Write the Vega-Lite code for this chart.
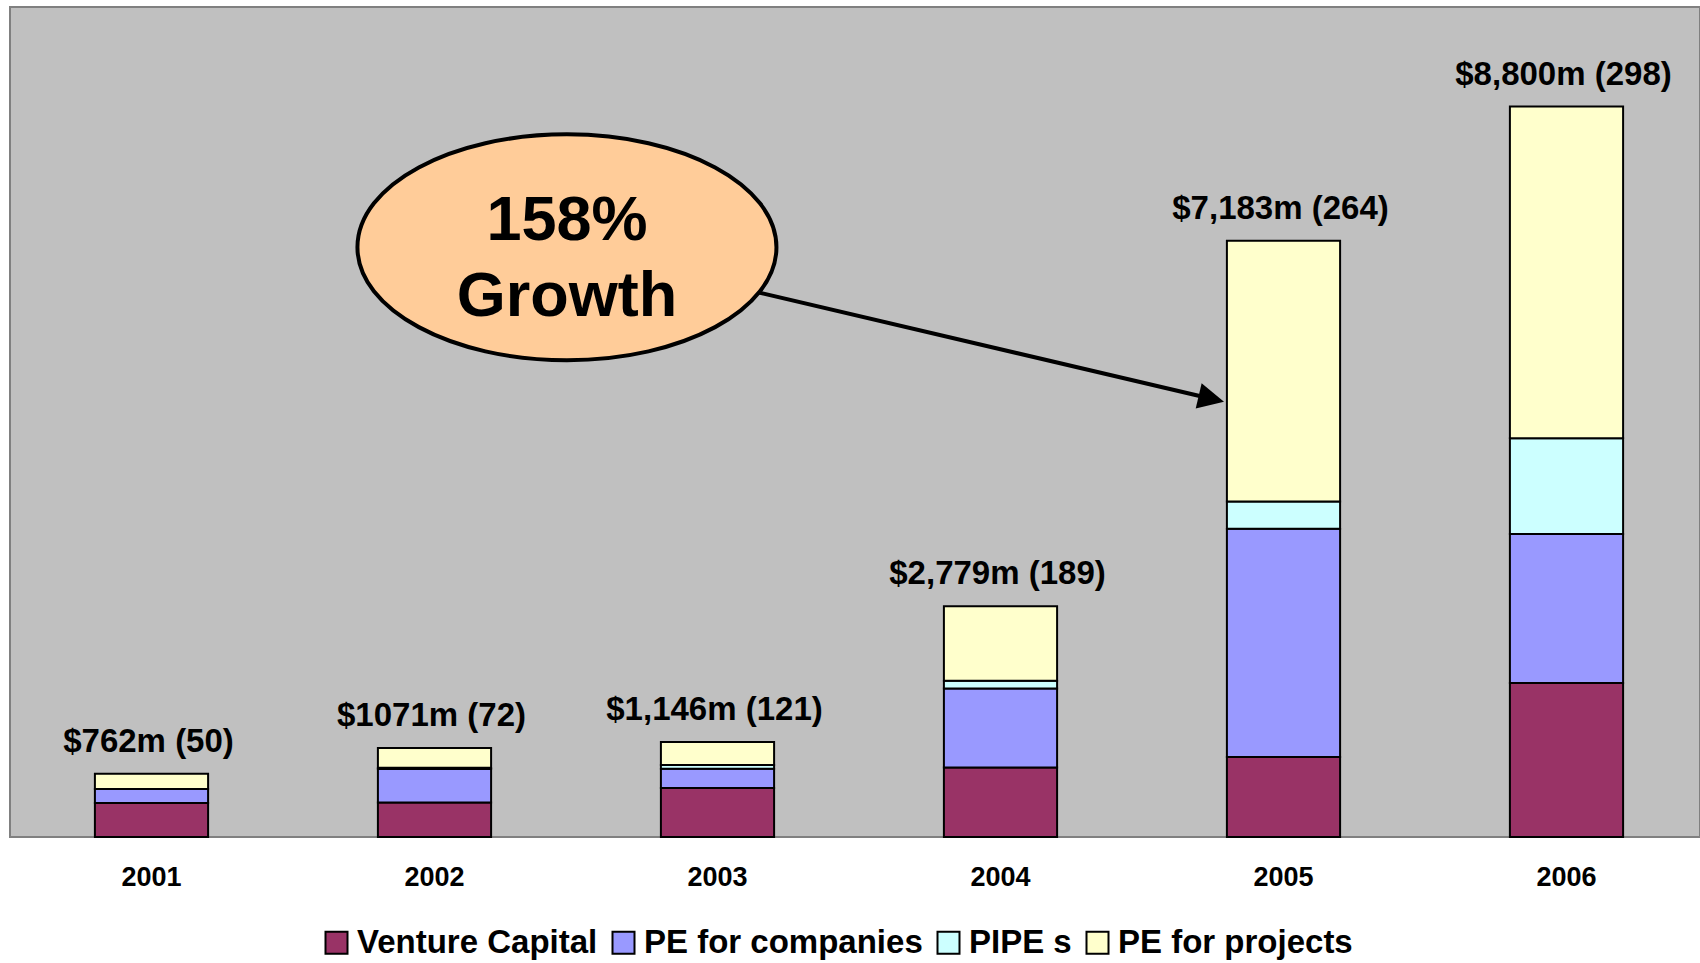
{
  "$schema": "https://vega.github.io/schema/vega-lite/v6.json",
  "autosize": {"type": "none"},
  "padding": {"left": 10, "top": 7, "right": 0, "bottom": 126},
  "width": 1690,
  "height": 830,
  "background": "white",
  "config": {
    "view": {"fill": "#C0C0C0", "stroke": "#808080", "strokeWidth": 2},
    "font": "Liberation Sans"
  },
  "datasets": {
    "bars": [
      {"year": "2001", "type": "Venture Capital", "amount": 410, "k": 1},
      {"year": "2001", "type": "PE for companies", "amount": 168, "k": 2},
      {"year": "2001", "type": "PE for projects", "amount": 184, "k": 4},
      {"year": "2002", "type": "Venture Capital", "amount": 415, "k": 1},
      {"year": "2002", "type": "PE for companies", "amount": 405, "k": 2},
      {"year": "2002", "type": "PIPE s", "amount": 15, "k": 3},
      {"year": "2002", "type": "PE for projects", "amount": 236, "k": 4},
      {"year": "2003", "type": "Venture Capital", "amount": 591, "k": 1},
      {"year": "2003", "type": "PE for companies", "amount": 230, "k": 2},
      {"year": "2003", "type": "PIPE s", "amount": 45, "k": 3},
      {"year": "2003", "type": "PE for projects", "amount": 280, "k": 4},
      {"year": "2004", "type": "Venture Capital", "amount": 838, "k": 1},
      {"year": "2004", "type": "PE for companies", "amount": 950, "k": 2},
      {"year": "2004", "type": "PIPE s", "amount": 95, "k": 3},
      {"year": "2004", "type": "PE for projects", "amount": 896, "k": 4},
      {"year": "2005", "type": "Venture Capital", "amount": 965, "k": 1},
      {"year": "2005", "type": "PE for companies", "amount": 2750, "k": 2},
      {"year": "2005", "type": "PIPE s", "amount": 326, "k": 3},
      {"year": "2005", "type": "PE for projects", "amount": 3142, "k": 4},
      {"year": "2006", "type": "Venture Capital", "amount": 1854, "k": 1},
      {"year": "2006", "type": "PE for companies", "amount": 1797, "k": 2},
      {"year": "2006", "type": "PIPE s", "amount": 1153, "k": 3},
      {"year": "2006", "type": "PE for projects", "amount": 3996, "k": 4}
    ],
    "totals": [
      {"year": "2001", "total": 762, "label": "$762m (50)"},
      {"year": "2002", "total": 1071, "label": "$1071m (72)"},
      {"year": "2003", "total": 1146, "label": "$1,146m (121)"},
      {"year": "2004", "total": 2779, "label": "$2,779m (189)"},
      {"year": "2005", "total": 7183, "label": "$7,183m (264)"},
      {"year": "2006", "total": 8800, "label": "$8,800m (298)"}
    ],
    "bubble": [{"pos": 1.468, "v": 7105}],
    "bubbleText": [
      {"pos": 1.468, "v": 7193, "t": "158%"},
      {"pos": 1.468, "v": 6276, "t": "Growth"}
    ],
    "arrow": [{"pos": 2.143, "v": 6562, "pos2": 3.745, "v2": 5280}],
    "head": [{"pos": 3.745, "v": 5280}]
  },
  "resolve": {"scale": {"x": "independent"}, "axis": {"x": "independent"}},
  "layer": [
    {
      "data": {"name": "bars"},
      "mark": {"type": "bar", "stroke": "black", "strokeWidth": 2},
      "encoding": {
        "x": {
          "field": "year", "type": "nominal",
          "scale": {"paddingInner": 0.6, "paddingOuter": 0.3, "range": [0, 1698]},
          "axis": {
            "title": null, "labelAngle": 0, "ticks": false, "tickSize": 0, "domain": false,
            "labelFontSize": 27, "labelFontWeight": "bold", "labelColor": "black",
            "labelPadding": 27, "labelFont": "Liberation Sans"
          }
        },
        "y": {
          "field": "amount", "type": "quantitative", "stack": "zero",
          "scale": {"domain": [0, 10000], "nice": false},
          "axis": null
        },
        "order": {"field": "k", "type": "quantitative", "sort": "ascending"},
        "color": {
          "field": "type", "type": "nominal",
          "scale": {
            "domain": ["Venture Capital", "PE for companies", "PIPE s", "PE for projects"],
            "range": ["#993366", "#9999FF", "#CCFFFF", "#FFFFCC"]
          },
          "legend": {
            "title": null, "orient": "none", "direction": "horizontal",
            "legendX": 310, "legendY": 919,
            "symbolType": "square", "symbolSize": 484,
            "symbolStrokeColor": "black", "symbolStrokeWidth": 2, "symbolOpacity": 1,
            "labelFontSize": 33, "labelFontWeight": "bold", "labelColor": "black",
            "labelFont": "Liberation Sans", "labelOffset": 4, "columnPadding": 9,
            "labelLimit": 500, "padding": 0
          }
        }
      }
    },
    {
      "data": {"name": "totals"},
      "mark": {
        "type": "text", "fontSize": 33, "fontWeight": "bold", "color": "black",
        "baseline": "alphabetic", "dy": -22, "dx": -3, "font": "Liberation Sans"
      },
      "encoding": {
        "x": {
          "field": "year", "type": "nominal",
          "scale": {"paddingInner": 0.6, "paddingOuter": 0.3, "range": [0, 1698]},
          "axis": null
        },
        "y": {"field": "total", "type": "quantitative", "scale": {"domain": [0, 10000], "nice": false}},
        "text": {"field": "label"}
      }
    },
    {
      "data": {"name": "arrow"},
      "mark": {"type": "rule", "color": "black", "strokeWidth": 4},
      "encoding": {
        "x": {"field": "pos", "type": "quantitative", "scale": {"domain": [-0.5, 5.5], "range": [0, 1698], "nice": false, "zero": false}, "axis": null},
        "x2": {"field": "pos2"},
        "y": {"field": "v", "type": "quantitative", "scale": {"domain": [0, 10000], "nice": false}},
        "y2": {"field": "v2"}
      }
    },
    {
      "data": {"name": "head"},
      "mark": {
        "type": "point", "filled": true, "color": "black", "opacity": 1,
        "shape": "M -1 -1 L 1 0 L -1 1 Z", "size": 676, "angle": 13.2
      },
      "encoding": {
        "x": {"field": "pos", "type": "quantitative", "scale": {"domain": [-0.5, 5.5], "range": [0, 1698], "nice": false, "zero": false}, "axis": null},
        "y": {"field": "v", "type": "quantitative", "scale": {"domain": [0, 10000], "nice": false}}
      }
    },
    {
      "data": {"name": "bubble"},
      "mark": {
        "type": "point", "filled": false, "fill": "#FFCC99", "fillOpacity": 1,
        "stroke": "black", "strokeWidth": 4, "opacity": 1,
        "shape": "M -1 0 A 1 0.539 0 1 1 1 0 A 1 0.539 0 1 1 -1 0 Z", "size": 175561
      },
      "encoding": {
        "x": {"field": "pos", "type": "quantitative", "scale": {"domain": [-0.5, 5.5], "range": [0, 1698], "nice": false, "zero": false}, "axis": null},
        "y": {"field": "v", "type": "quantitative", "scale": {"domain": [0, 10000], "nice": false}}
      }
    },
    {
      "data": {"name": "bubbleText"},
      "mark": {
        "type": "text", "fontSize": 63, "fontWeight": "bold", "color": "black",
        "baseline": "alphabetic", "align": "center", "font": "Liberation Sans"
      },
      "encoding": {
        "x": {"field": "pos", "type": "quantitative", "scale": {"domain": [-0.5, 5.5], "range": [0, 1698], "nice": false, "zero": false}, "axis": null},
        "y": {"field": "v", "type": "quantitative", "scale": {"domain": [0, 10000], "nice": false}},
        "text": {"field": "t"}
      }
    }
  ]
}
